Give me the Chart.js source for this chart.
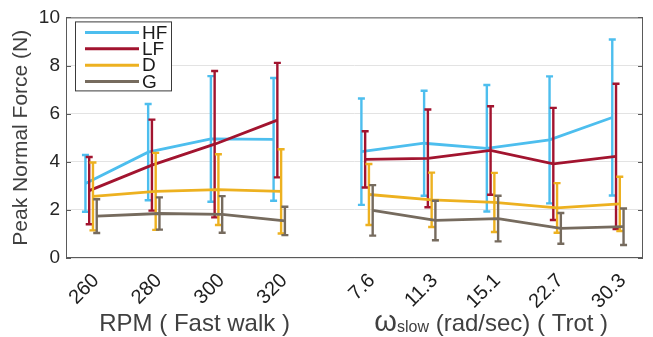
<!DOCTYPE html>
<html lang="en">
<head>
<meta charset="UTF-8" />
<title>Peak Normal Force</title>
<style>
  body { margin: 0; background: #fff; }
  #wrap { width: 653px; height: 337px; }
</style>
<script src="https://cdn.jsdelivr.net/npm/chart.js"></script>
</head>
<body>
<div id="wrap"><canvas id="forceChart"></canvas></div>
<script>
  // categories: motor RPM for the fast walk, slow-phase speed for the trot
  const walkLabels = ["260", "280", "300", "320"];
  const trotLabels = ["7.6", "11.3", "15.1", "22.7", "30.3"];
  const walkPos = [1, 2, 3, 4];
  const trotPos = [5.4, 6.4, 7.4, 8.4, 9.4];
  const yTicks = [0, 2, 4, 6, 8, 10];

  // mean peak normal force (N) and error half-width, walk values then trot values
  const hfMean = [3.10, 4.40, 4.95, 4.93, 4.42, 4.77, 4.56, 4.91, 5.84];
  const hfErr  = [1.18, 2.00, 2.61, 2.55, 2.21, 2.18, 2.63, 2.64, 3.24];
  const lfMean = [2.80, 3.86, 4.73, 5.73, 4.10, 4.14, 4.47, 3.91, 4.22];
  const lfErr  = [1.40, 1.89, 3.04, 2.38, 1.17, 2.03, 1.84, 2.33, 3.02];
  const dMean  = [2.56, 2.77, 2.84, 2.77, 2.64, 2.42, 2.31, 2.08, 2.25];
  const dErr   = [1.41, 1.60, 1.47, 1.75, 1.27, 1.13, 1.23, 1.03, 1.13];
  const gMean  = [1.74, 1.85, 1.81, 1.54, 1.98, 1.56, 1.64, 1.23, 1.30];
  const gErr   = [0.70, 0.67, 0.76, 0.59, 1.05, 0.82, 0.95, 0.64, 0.76];

  const allPos = walkPos.concat(trotPos);
  const allLabels = walkLabels.concat(trotLabels);
  const FONT = '"Liberation Sans", Arial, sans-serif';

  // each foot is nudged sideways so the error bars don't sit on top of each other
  function series(label, mean, err, color, shift, order) {
    const pts = walkPos.map((x, i) => ({ x: x + shift, y: mean[i], err: err[i] }));
    pts.push({ x: (walkPos[walkPos.length - 1] + trotPos[0]) / 2, y: null });
    trotPos.forEach((x, j) => {
      const i = walkPos.length + j;
      pts.push({ x: x + shift, y: mean[i], err: err[i] });
    });
    return {
      label, data: pts, order,
      borderColor: color, backgroundColor: color,
      borderWidth: 2.8, pointRadius: 0, tension: 0, spanGaps: false
    };
  }

  const errorBars = {
    id: 'errorBars',
    afterDatasetDraw(chart, args) {
      const ds = chart.data.datasets[args.index];
      const ys = chart.scales.y;
      const ctx = chart.ctx;
      ctx.save();
      ctx.strokeStyle = ds.borderColor;
      ctx.lineWidth = 2.4;
      args.meta.data.forEach((pt, i) => {
        const raw = ds.data[i];
        if (raw.y == null) return;
        const top = ys.getPixelForValue(raw.y + raw.err);
        const bot = ys.getPixelForValue(raw.y - raw.err);
        ctx.beginPath();
        ctx.moveTo(pt.x, top); ctx.lineTo(pt.x, bot);
        ctx.moveTo(pt.x - 3.5, top); ctx.lineTo(pt.x + 3.5, top);
        ctx.moveTo(pt.x - 3.5, bot); ctx.lineTo(pt.x + 3.5, bot);
        ctx.stroke();
      });
      ctx.restore();
    }
  };

  // axes box, inward ticks, boxed legend and the two group titles
  const decorations = {
    id: 'decorations',
    afterDraw(chart) {
      const { ctx, chartArea: a, scales } = chart;
      ctx.save();
      ctx.strokeStyle = '#5a5a5a';
      ctx.lineWidth = 1;
      ctx.strokeRect(a.left + 0.5, a.top + 0.5, a.right - a.left - 1, a.bottom - a.top - 1);
      yTicks.forEach(v => {
        const py = Math.round(scales.y.getPixelForValue(v)) + 0.5;
        ctx.beginPath();
        ctx.moveTo(a.left, py); ctx.lineTo(a.left + 5, py);
        ctx.moveTo(a.right, py); ctx.lineTo(a.right - 5, py);
        ctx.stroke();
      });

      // legend
      const lx = a.left + 9, ly = a.top + 4;
      ctx.fillStyle = '#fff';
      ctx.fillRect(lx, ly, 96, 69);
      ctx.strokeStyle = '#3a3a3a';
      ctx.strokeRect(lx + 0.5, ly + 0.5, 96, 69);
      ctx.font = '19px ' + FONT;
      ctx.textBaseline = 'middle';
      ctx.textAlign = 'left';
      chart.data.datasets.forEach((ds, i) => {
        const ry = ly + 11 + i * 16.4;
        ctx.strokeStyle = ds.borderColor;
        ctx.lineWidth = 3;
        ctx.beginPath();
        ctx.moveTo(lx + 10, ry); ctx.lineTo(lx + 64, ry);
        ctx.stroke();
        ctx.fillStyle = '#1a1a1a';
        ctx.fillText(ds.label, lx + 67, ry + 1);
      });

      // x titles
      const base = 331;
      ctx.fillStyle = '#404040';
      ctx.textBaseline = 'alphabetic';
      ctx.textAlign = 'center';
      ctx.font = '24px ' + FONT;
      ctx.fillText('RPM ( Fast walk )', scales.x.getPixelForValue(2.65), base);

      const parts = [
        ['\u03c9', '29px ' + FONT, 0],
        ['slow', '16px ' + FONT, 1],
        [' (rad/sec) ( Trot )', '24px ' + FONT, 0]
      ];
      let total = 0;
      parts.forEach(p => { ctx.font = p[1]; total += ctx.measureText(p[0]).width; });
      let px = scales.x.getPixelForValue(7.38) - total / 2;
      ctx.textAlign = 'left';
      parts.forEach(p => {
        ctx.font = p[1];
        ctx.fillText(p[0], px, base + p[2]);
        px += ctx.measureText(p[0]).width;
      });
      ctx.restore();
    }
  };

  new Chart(document.getElementById('forceChart'), {
    type: 'line',
    data: {
      datasets: [
        series('HF', hfMean, hfErr, '#4DBEEE', -0.09, 3),
        series('LF', lfMean, lfErr, '#A2142F', -0.03, 2),
        series('D',  dMean,  dErr,  '#EDB120',  0.03, 1),
        series('G',  gMean,  gErr,  '#766B5E',  0.09, 0)
      ]
    },
    options: {
      responsive: true,
      maintainAspectRatio: false,
      animation: false,
      events: [],
      layout: { padding: { top: 17, right: 10, left: 0, bottom: 0 } },
      plugins: { legend: { display: false }, tooltip: { enabled: false } },
      scales: {
        x: {
          type: 'linear', min: 0.6, max: 9.8,
          afterBuildTicks: s => { s.ticks = allPos.map(v => ({ value: v })); },
          afterFit: s => { s.height = 79; },
          grid: { display: false },
          border: { display: false },
          ticks: {
            autoSkip: false, minRotation: 45, maxRotation: 45, padding: 3, labelOffset: 5,
            color: '#1e1e1e',
            font: { family: FONT, size: 20 },
            callback: v => allLabels[allPos.indexOf(v)]
          }
        },
        y: {
          min: 0, max: 10,
          afterBuildTicks: s => { s.ticks = yTicks.map(v => ({ value: v })); },
          afterFit: s => { s.width = 66; },
          grid: { color: '#e3e3e3', drawTicks: false },
          border: { display: false },
          ticks: {
            padding: 6, color: '#262626',
            font: { family: FONT, size: 19 }
          },
          title: {
            display: true, text: 'Peak Normal Force (N)', color: '#404040',
            padding: { top: 9, bottom: 0 },
            font: { family: FONT, size: 21 }
          }
        }
      }
    },
    plugins: [errorBars, decorations]
  });
</script>
</body>
</html>
